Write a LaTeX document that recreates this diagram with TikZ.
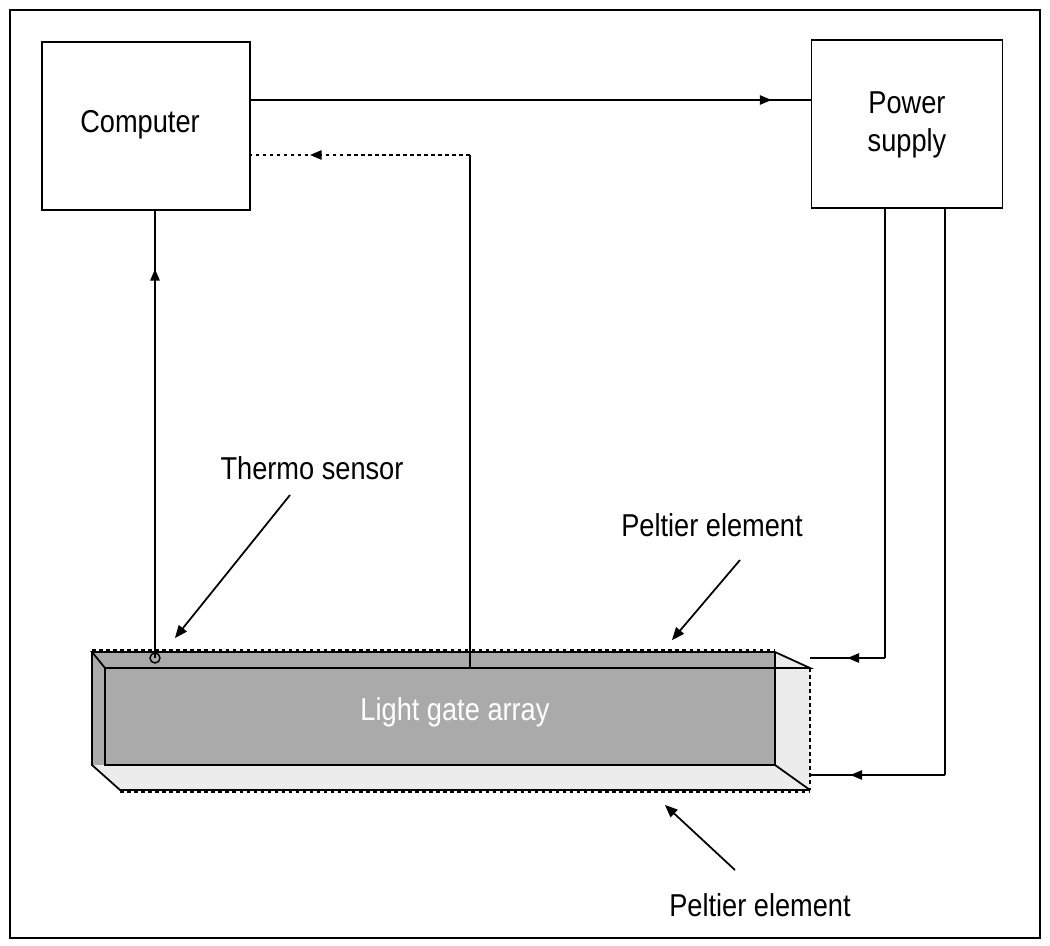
\documentclass[tikz,border=0pt]{standalone}
\usepackage{fontspec}
\setmainfont{Liberation Sans}
\usetikzlibrary{arrows,positioning,decorations.markings,patterns}
\definecolor{chgrey}{RGB}{170,170,170}
\definecolor{flgrey}{RGB}{236,236,236}
\tikzstyle{unit} = [rectangle, draw, line width=1.6pt, inner sep=0pt]
\tikzstyle{wire} = [line width=1.3pt]
\tikzstyle{midarrow} = [postaction={decorate}, decoration={markings, mark=at position #1 with {\arrow{triangle 45}}}]
\tikzstyle{label} = [font=\fontsize{27}{32}\selectfont, xscale=0.86, align=center]
\tikzstyle{pointer} = [line width=1.5pt,->,>=triangle 45]

\begin{document}
\begin{tikzpicture}[x=0.03cm,y=-0.03cm]
\useasboundingbox (0,0) rectangle (1050,946);
\draw[line width=1.8pt] (10,10) rectangle (1040,938);
% Units
\node (computer) [unit, minimum width=208*0.03cm, minimum height=168*0.03cm] at (146,126) {};
\node at (140,125) [label] {Computer};
\node (power) [unit, minimum width=191*0.03cm, minimum height=168*0.03cm] at (907,124) {};
\node at (907,125) [label] {Power\\supply};

% Chamber
\fill[chgrey] (92,652) -- (775,652) -- (810,668) -- (810,765) -- (105,765) -- (92,765) -- cycle;
\fill[flgrey] (92,765) -- (810,765) -- (810,790) -- (120,790) -- cycle;
\fill[flgrey] (775,652) -- (810,668) -- (810,790) -- (775,770) -- cycle;
\draw[line width=1.5pt] (92,652) -- (775,652) -- (810,668) -- (105,668) -- cycle;
\draw[line width=1.5pt] (92,652) -- (92,765) -- (120,790) -- (810,790);
\draw[line width=1.5pt] (105,668) -- (105,765) -- (775,765) -- (810,790);
\draw[line width=1.5pt] (775,652) -- (775,765);
\draw[line width=1.5pt, dashed] (810,668) -- (810,790);
\draw[line width=1.5pt, dashed] (92,650) -- (775,650);
\draw[line width=1.5pt, dashed] (120,792) -- (810,792);
\coordinate (sensor) at (155,658);
\coordinate (gate) at (470,668);
\coordinate (upper) at (810,658);
\coordinate (lower) at (810,775);
\draw[line width=1.2pt] (sensor) circle (5);
\node (chamber) at (455,712) [label, text=white] {Light gate array};

% Wires
\draw[wire, midarrow=0.93] (computer.east |- 0,100) -- (power.west |- 0,100);
\draw[wire] (gate) -- (470,155);
\draw[wire, midarrow=0.73, dashed] (470,155) -- (computer.east |- 0,155);
\draw[wire, midarrow=0.87] (sensor) -- (computer.south -| sensor);
\draw[wire] (power.south -| 885,0) -- (885,658);
\draw[wire, midarrow=0.5] (885,658) -- (upper);
\draw[wire] (power.south -| 945,0) -- (945,775);
\draw[wire, midarrow=0.7] (945,775) -- (lower);

% Labels
\node (thermo) at (312,468) [label] {Thermo sensor};
\node (peltup) at (712,525) [label] {Peltier element};
\node (peltlow) at (760,905) [label] {Peltier element};
\draw[pointer] (290,495) -- (175,638);
\draw[pointer] (740,560) -- (672,640);
\draw[pointer] (735,870) -- (665,805);
\end{tikzpicture}
\end{document}
